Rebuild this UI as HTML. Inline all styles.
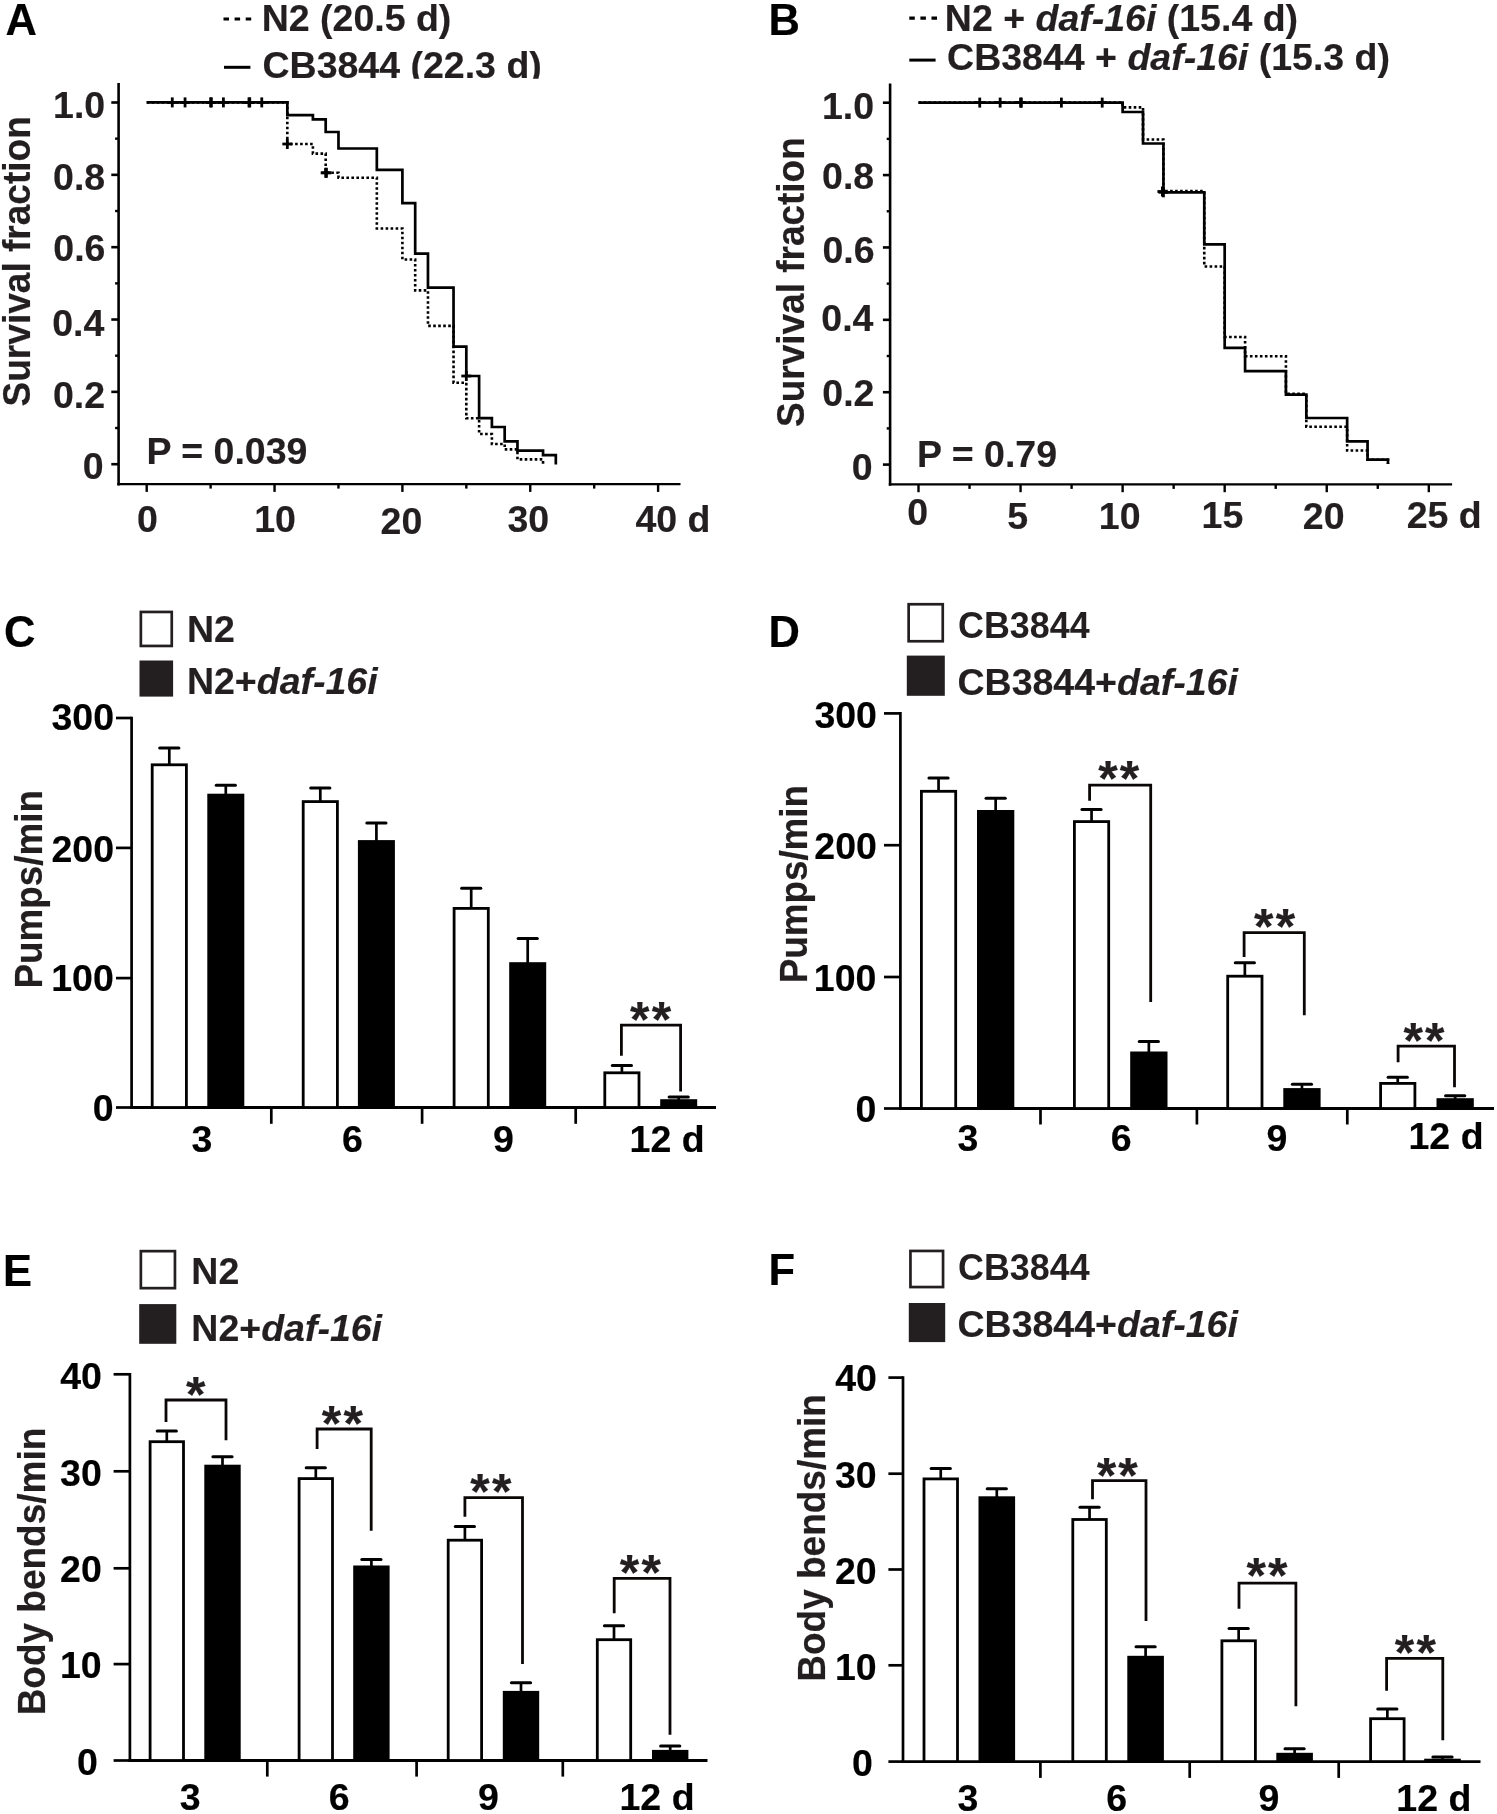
<!DOCTYPE html>
<html><head><meta charset="utf-8"><title>Figure</title>
<style>
html,body{margin:0;padding:0;background:#fff;overflow:hidden;}
svg{display:block;will-change:transform;}
text{font-family:"Liberation Sans", sans-serif;}
</style></head>
<body>
<svg width="1497" height="1814" viewBox="0 0 1497 1814">
<rect width="1497" height="1814" fill="#fff"/>
<defs><clipPath id="clipA"><rect x="0" y="0" width="740" height="78.8"/></clipPath></defs>
<line x1="118.60" y1="83.00" x2="118.60" y2="485.40" stroke="#000" stroke-width="2.6" />
<line x1="117.30" y1="484.10" x2="680.50" y2="484.10" stroke="#000" stroke-width="2.4" />
<line x1="111.30" y1="102.50" x2="118.60" y2="102.50" stroke="#000" stroke-width="2.6" />
<line x1="115.10" y1="138.67" x2="118.60" y2="138.67" stroke="#000" stroke-width="2.4" />
<line x1="111.30" y1="174.84" x2="118.60" y2="174.84" stroke="#000" stroke-width="2.6" />
<line x1="115.10" y1="211.01" x2="118.60" y2="211.01" stroke="#000" stroke-width="2.4" />
<line x1="111.30" y1="247.18" x2="118.60" y2="247.18" stroke="#000" stroke-width="2.6" />
<line x1="115.10" y1="283.35" x2="118.60" y2="283.35" stroke="#000" stroke-width="2.4" />
<line x1="111.30" y1="319.52" x2="118.60" y2="319.52" stroke="#000" stroke-width="2.6" />
<line x1="115.10" y1="355.69" x2="118.60" y2="355.69" stroke="#000" stroke-width="2.4" />
<line x1="111.30" y1="391.86" x2="118.60" y2="391.86" stroke="#000" stroke-width="2.6" />
<line x1="115.10" y1="428.03" x2="118.60" y2="428.03" stroke="#000" stroke-width="2.4" />
<line x1="111.30" y1="464.20" x2="118.60" y2="464.20" stroke="#000" stroke-width="2.6" />
<line x1="146.70" y1="484.10" x2="146.70" y2="491.90" stroke="#000" stroke-width="2.4" />
<line x1="210.62" y1="484.10" x2="210.62" y2="488.60" stroke="#000" stroke-width="2.4" />
<line x1="274.55" y1="484.10" x2="274.55" y2="491.90" stroke="#000" stroke-width="2.4" />
<line x1="338.47" y1="484.10" x2="338.47" y2="488.60" stroke="#000" stroke-width="2.4" />
<line x1="402.40" y1="484.10" x2="402.40" y2="491.90" stroke="#000" stroke-width="2.4" />
<line x1="466.32" y1="484.10" x2="466.32" y2="488.60" stroke="#000" stroke-width="2.4" />
<line x1="530.25" y1="484.10" x2="530.25" y2="491.90" stroke="#000" stroke-width="2.4" />
<line x1="594.17" y1="484.10" x2="594.17" y2="488.60" stroke="#000" stroke-width="2.4" />
<line x1="658.10" y1="484.10" x2="658.10" y2="491.90" stroke="#000" stroke-width="2.4" />
<path d="M146.70,102.40 H287.33 V115.10 H312.90 V119.40 H325.69 V132.00 H338.48 V148.50 H376.83 V169.80 H402.40 V203.10 H415.19 V253.60 H427.97 V287.60 H453.54 V346.70 H466.32 V376.00 H479.11 V418.20 H491.89 V427.00 H504.68 V441.30 H517.46 V450.60 H543.03 V455.20 H555.82 V464.50" fill="none" stroke="#000" stroke-width="2.7" />
<path d="M146.70,102.40 H287.33 V144.00 H312.90 V153.60 H325.69 V172.80 H338.48 V177.70 H376.83 V228.50 H402.40 V259.50 H415.19 V290.40 H427.97 V325.90 H453.54 V382.70 H466.32 V418.20 H479.11 V434.00 H491.89 V444.00 H504.68 V449.40 H517.46 V459.40 H543.03 V465.00" fill="none" stroke="#000" stroke-width="2.6" stroke-dasharray="2.6 2.4"/>
<line x1="167.27" y1="102.40" x2="177.27" y2="102.40" stroke="#000" stroke-width="2.8" />
<line x1="172.27" y1="97.40" x2="172.27" y2="107.40" stroke="#000" stroke-width="2.8" />
<line x1="180.06" y1="102.40" x2="190.06" y2="102.40" stroke="#000" stroke-width="2.8" />
<line x1="185.06" y1="97.40" x2="185.06" y2="107.40" stroke="#000" stroke-width="2.8" />
<line x1="205.62" y1="102.40" x2="215.62" y2="102.40" stroke="#000" stroke-width="2.8" />
<line x1="210.62" y1="97.40" x2="210.62" y2="107.40" stroke="#000" stroke-width="2.8" />
<line x1="206.39" y1="102.40" x2="216.39" y2="102.40" stroke="#000" stroke-width="2.8" />
<line x1="211.39" y1="97.40" x2="211.39" y2="107.40" stroke="#000" stroke-width="2.8" />
<line x1="218.41" y1="102.40" x2="228.41" y2="102.40" stroke="#000" stroke-width="2.8" />
<line x1="223.41" y1="97.40" x2="223.41" y2="107.40" stroke="#000" stroke-width="2.8" />
<line x1="243.98" y1="102.40" x2="253.98" y2="102.40" stroke="#000" stroke-width="2.8" />
<line x1="248.98" y1="97.40" x2="248.98" y2="107.40" stroke="#000" stroke-width="2.8" />
<line x1="244.75" y1="102.40" x2="254.75" y2="102.40" stroke="#000" stroke-width="2.8" />
<line x1="249.75" y1="97.40" x2="249.75" y2="107.40" stroke="#000" stroke-width="2.8" />
<line x1="256.76" y1="102.40" x2="266.76" y2="102.40" stroke="#000" stroke-width="2.8" />
<line x1="261.76" y1="97.40" x2="261.76" y2="107.40" stroke="#000" stroke-width="2.8" />
<line x1="282.33" y1="144.00" x2="292.33" y2="144.00" stroke="#000" stroke-width="2.8" />
<line x1="287.33" y1="139.00" x2="287.33" y2="149.00" stroke="#000" stroke-width="2.8" />
<line x1="320.69" y1="172.80" x2="330.69" y2="172.80" stroke="#000" stroke-width="2.8" />
<line x1="325.69" y1="167.80" x2="325.69" y2="177.80" stroke="#000" stroke-width="2.8" />
<line x1="321.46" y1="172.80" x2="331.46" y2="172.80" stroke="#000" stroke-width="2.8" />
<line x1="326.46" y1="167.80" x2="326.46" y2="177.80" stroke="#000" stroke-width="2.8" />
<line x1="461.32" y1="376.00" x2="471.32" y2="376.00" stroke="#000" stroke-width="2.8" />
<line x1="466.32" y1="371.00" x2="466.32" y2="381.00" stroke="#000" stroke-width="2.8" />
<line x1="890.10" y1="83.40" x2="890.10" y2="485.70" stroke="#000" stroke-width="2.6" />
<line x1="888.80" y1="484.40" x2="1452.10" y2="484.40" stroke="#000" stroke-width="2.4" />
<line x1="882.90" y1="102.70" x2="890.10" y2="102.70" stroke="#000" stroke-width="2.6" />
<line x1="886.70" y1="138.89" x2="890.10" y2="138.89" stroke="#000" stroke-width="2.4" />
<line x1="882.90" y1="175.08" x2="890.10" y2="175.08" stroke="#000" stroke-width="2.6" />
<line x1="886.70" y1="211.27" x2="890.10" y2="211.27" stroke="#000" stroke-width="2.4" />
<line x1="882.90" y1="247.46" x2="890.10" y2="247.46" stroke="#000" stroke-width="2.6" />
<line x1="886.70" y1="283.65" x2="890.10" y2="283.65" stroke="#000" stroke-width="2.4" />
<line x1="882.90" y1="319.84" x2="890.10" y2="319.84" stroke="#000" stroke-width="2.6" />
<line x1="886.70" y1="356.03" x2="890.10" y2="356.03" stroke="#000" stroke-width="2.4" />
<line x1="882.90" y1="392.22" x2="890.10" y2="392.22" stroke="#000" stroke-width="2.6" />
<line x1="886.70" y1="428.41" x2="890.10" y2="428.41" stroke="#000" stroke-width="2.4" />
<line x1="882.90" y1="464.60" x2="890.10" y2="464.60" stroke="#000" stroke-width="2.6" />
<line x1="918.50" y1="484.40" x2="918.50" y2="492.20" stroke="#000" stroke-width="2.4" />
<line x1="969.53" y1="484.40" x2="969.53" y2="488.90" stroke="#000" stroke-width="2.4" />
<line x1="1020.56" y1="484.40" x2="1020.56" y2="492.20" stroke="#000" stroke-width="2.4" />
<line x1="1071.59" y1="484.40" x2="1071.59" y2="488.90" stroke="#000" stroke-width="2.4" />
<line x1="1122.62" y1="484.40" x2="1122.62" y2="492.20" stroke="#000" stroke-width="2.4" />
<line x1="1173.65" y1="484.40" x2="1173.65" y2="488.90" stroke="#000" stroke-width="2.4" />
<line x1="1224.68" y1="484.40" x2="1224.68" y2="492.20" stroke="#000" stroke-width="2.4" />
<line x1="1275.71" y1="484.40" x2="1275.71" y2="488.90" stroke="#000" stroke-width="2.4" />
<line x1="1326.74" y1="484.40" x2="1326.74" y2="492.20" stroke="#000" stroke-width="2.4" />
<line x1="1377.77" y1="484.40" x2="1377.77" y2="488.90" stroke="#000" stroke-width="2.4" />
<line x1="1428.80" y1="484.40" x2="1428.80" y2="492.20" stroke="#000" stroke-width="2.4" />
<path d="M918.50,102.60 H1122.62 V112.00 H1143.03 V143.50 H1163.44 V192.30 H1204.27 V244.30 H1224.68 V347.80 H1245.09 V371.20 H1285.92 V394.60 H1306.33 V418.00 H1347.15 V441.40 H1367.56 V459.70 H1387.98 V464.00" fill="none" stroke="#000" stroke-width="2.7" />
<path d="M918.50,102.60 H1122.62 V107.40 H1143.03 V139.50 H1163.44 V191.00 H1204.27 V266.50 H1224.68 V337.00 H1245.09 V356.20 H1285.92 V393.80 H1306.33 V426.80 H1347.15 V450.50 H1367.56 V459.70 H1387.98 V464.00" fill="none" stroke="#000" stroke-width="2.6" stroke-dasharray="2.6 2.4"/>
<line x1="974.74" y1="102.60" x2="984.74" y2="102.60" stroke="#000" stroke-width="2.8" />
<line x1="979.74" y1="97.60" x2="979.74" y2="107.60" stroke="#000" stroke-width="2.8" />
<line x1="995.15" y1="102.60" x2="1005.15" y2="102.60" stroke="#000" stroke-width="2.8" />
<line x1="1000.15" y1="97.60" x2="1000.15" y2="107.60" stroke="#000" stroke-width="2.8" />
<line x1="1015.56" y1="102.60" x2="1025.56" y2="102.60" stroke="#000" stroke-width="2.8" />
<line x1="1020.56" y1="97.60" x2="1020.56" y2="107.60" stroke="#000" stroke-width="2.8" />
<line x1="1016.38" y1="102.60" x2="1026.38" y2="102.60" stroke="#000" stroke-width="2.8" />
<line x1="1021.38" y1="97.60" x2="1021.38" y2="107.60" stroke="#000" stroke-width="2.8" />
<line x1="1056.38" y1="102.60" x2="1066.38" y2="102.60" stroke="#000" stroke-width="2.8" />
<line x1="1061.38" y1="97.60" x2="1061.38" y2="107.60" stroke="#000" stroke-width="2.8" />
<line x1="1097.21" y1="102.60" x2="1107.21" y2="102.60" stroke="#000" stroke-width="2.8" />
<line x1="1102.21" y1="97.60" x2="1102.21" y2="107.60" stroke="#000" stroke-width="2.8" />
<line x1="1158.44" y1="192.30" x2="1168.44" y2="192.30" stroke="#000" stroke-width="2.8" />
<line x1="1163.44" y1="187.30" x2="1163.44" y2="197.30" stroke="#000" stroke-width="2.8" />
<line x1="1157.42" y1="191.50" x2="1167.42" y2="191.50" stroke="#000" stroke-width="2.8" />
<line x1="1162.42" y1="186.50" x2="1162.42" y2="196.50" stroke="#000" stroke-width="2.8" />
<line x1="223.5" y1="19" x2="251.2" y2="19" stroke="#000" stroke-width="3.2" stroke-dasharray="5.5 5.6"/>
<line x1="224.00" y1="67.30" x2="250.40" y2="67.30" stroke="#000" stroke-width="3" />
<line x1="909.3" y1="18.1" x2="937.2" y2="18.1" stroke="#000" stroke-width="3.2" stroke-dasharray="5.5 5.6"/>
<line x1="909.30" y1="60.10" x2="935.60" y2="60.10" stroke="#000" stroke-width="3" />
<line x1="131.60" y1="716.70" x2="131.60" y2="1108.80" stroke="#000" stroke-width="2.7" />
<line x1="130.30" y1="1107.50" x2="716.00" y2="1107.50" stroke="#000" stroke-width="2.8" />
<line x1="116.00" y1="718.00" x2="131.60" y2="718.00" stroke="#000" stroke-width="2.7" />
<line x1="116.00" y1="847.90" x2="131.60" y2="847.90" stroke="#000" stroke-width="2.7" />
<line x1="116.00" y1="978.10" x2="131.60" y2="978.10" stroke="#000" stroke-width="2.7" />
<line x1="116.00" y1="1107.50" x2="131.60" y2="1107.50" stroke="#000" stroke-width="2.7" />
<line x1="271.30" y1="1107.50" x2="271.30" y2="1123.80" stroke="#000" stroke-width="2.7" />
<line x1="422.10" y1="1107.50" x2="422.10" y2="1123.80" stroke="#000" stroke-width="2.7" />
<line x1="575.70" y1="1107.50" x2="575.70" y2="1123.80" stroke="#000" stroke-width="2.7" />
<line x1="169.30" y1="764.40" x2="169.30" y2="748.00" stroke="#000" stroke-width="2.7" />
<line x1="159.70" y1="748.00" x2="178.90" y2="748.00" stroke="#000" stroke-width="3.0" stroke-linecap="round"/>
<rect x="152.20" y="764.80" width="34.20" height="342.70" fill="#fff" stroke="#000" stroke-width="2.8"/>
<line x1="225.80" y1="794.70" x2="225.80" y2="785.30" stroke="#000" stroke-width="2.7" />
<line x1="216.20" y1="785.30" x2="235.40" y2="785.30" stroke="#000" stroke-width="3.0" stroke-linecap="round"/>
<rect x="207.30" y="793.70" width="37.00" height="313.80" fill="#000"/>
<line x1="320.30" y1="801.20" x2="320.30" y2="787.90" stroke="#000" stroke-width="2.7" />
<line x1="310.70" y1="787.90" x2="329.90" y2="787.90" stroke="#000" stroke-width="3.0" stroke-linecap="round"/>
<rect x="303.20" y="801.60" width="34.20" height="305.90" fill="#fff" stroke="#000" stroke-width="2.8"/>
<line x1="376.40" y1="841.10" x2="376.40" y2="822.90" stroke="#000" stroke-width="2.7" />
<line x1="366.80" y1="822.90" x2="386.00" y2="822.90" stroke="#000" stroke-width="3.0" stroke-linecap="round"/>
<rect x="357.90" y="840.10" width="37.00" height="267.40" fill="#000"/>
<line x1="471.20" y1="908.00" x2="471.20" y2="888.30" stroke="#000" stroke-width="2.7" />
<line x1="461.60" y1="888.30" x2="480.80" y2="888.30" stroke="#000" stroke-width="3.0" stroke-linecap="round"/>
<rect x="454.10" y="908.40" width="34.20" height="199.10" fill="#fff" stroke="#000" stroke-width="2.8"/>
<line x1="527.70" y1="963.20" x2="527.70" y2="938.50" stroke="#000" stroke-width="2.7" />
<line x1="518.10" y1="938.50" x2="537.30" y2="938.50" stroke="#000" stroke-width="3.0" stroke-linecap="round"/>
<rect x="509.20" y="962.20" width="37.00" height="145.30" fill="#000"/>
<line x1="621.90" y1="1072.40" x2="621.90" y2="1065.60" stroke="#000" stroke-width="2.7" />
<line x1="612.30" y1="1065.60" x2="631.50" y2="1065.60" stroke="#000" stroke-width="3.0" stroke-linecap="round"/>
<rect x="604.80" y="1072.80" width="34.20" height="34.70" fill="#fff" stroke="#000" stroke-width="2.8"/>
<line x1="678.70" y1="1100.20" x2="678.70" y2="1097.00" stroke="#000" stroke-width="2.7" />
<line x1="669.10" y1="1097.00" x2="688.30" y2="1097.00" stroke="#000" stroke-width="3.0" stroke-linecap="round"/>
<rect x="660.20" y="1099.20" width="37.00" height="8.30" fill="#000"/>
<path d="M621.40,1055.80 V1025.20 H680.60 V1091.40" fill="none" stroke="#0a0606" stroke-width="2.8" />
<rect x="140.85" y="611.95" width="30.90" height="34.00" fill="#fff" stroke="#231f20" stroke-width="2.7"/>
<rect x="139.50" y="660.50" width="33.60" height="36.10" fill="#231f20"/>
<line x1="900.40" y1="712.10" x2="900.40" y2="1109.80" stroke="#000" stroke-width="2.7" />
<line x1="899.10" y1="1108.50" x2="1494.00" y2="1108.50" stroke="#000" stroke-width="2.8" />
<line x1="884.00" y1="713.40" x2="900.40" y2="713.40" stroke="#000" stroke-width="2.7" />
<line x1="884.00" y1="845.20" x2="900.40" y2="845.20" stroke="#000" stroke-width="2.7" />
<line x1="884.00" y1="977.00" x2="900.40" y2="977.00" stroke="#000" stroke-width="2.7" />
<line x1="884.00" y1="1108.50" x2="900.40" y2="1108.50" stroke="#000" stroke-width="2.7" />
<line x1="1040.50" y1="1108.50" x2="1040.50" y2="1124.50" stroke="#000" stroke-width="2.7" />
<line x1="1196.90" y1="1108.50" x2="1196.90" y2="1124.50" stroke="#000" stroke-width="2.7" />
<line x1="1347.30" y1="1108.50" x2="1347.30" y2="1124.50" stroke="#000" stroke-width="2.7" />
<line x1="938.55" y1="790.90" x2="938.55" y2="778.10" stroke="#000" stroke-width="2.7" />
<line x1="928.95" y1="778.10" x2="948.15" y2="778.10" stroke="#000" stroke-width="3.0" stroke-linecap="round"/>
<rect x="921.40" y="791.30" width="34.30" height="317.20" fill="#fff" stroke="#000" stroke-width="2.8"/>
<line x1="995.65" y1="811.00" x2="995.65" y2="798.30" stroke="#000" stroke-width="2.7" />
<line x1="986.05" y1="798.30" x2="1005.25" y2="798.30" stroke="#000" stroke-width="3.0" stroke-linecap="round"/>
<rect x="977.00" y="810.00" width="37.30" height="298.50" fill="#000"/>
<line x1="1091.55" y1="821.20" x2="1091.55" y2="809.60" stroke="#000" stroke-width="2.7" />
<line x1="1081.95" y1="809.60" x2="1101.15" y2="809.60" stroke="#000" stroke-width="3.0" stroke-linecap="round"/>
<rect x="1074.40" y="821.60" width="34.30" height="286.90" fill="#fff" stroke="#000" stroke-width="2.8"/>
<line x1="1148.85" y1="1052.50" x2="1148.85" y2="1041.60" stroke="#000" stroke-width="2.7" />
<line x1="1139.25" y1="1041.60" x2="1158.45" y2="1041.60" stroke="#000" stroke-width="3.0" stroke-linecap="round"/>
<rect x="1130.20" y="1051.50" width="37.30" height="57.00" fill="#000"/>
<line x1="1244.85" y1="975.80" x2="1244.85" y2="962.70" stroke="#000" stroke-width="2.7" />
<line x1="1235.25" y1="962.70" x2="1254.45" y2="962.70" stroke="#000" stroke-width="3.0" stroke-linecap="round"/>
<rect x="1227.70" y="976.20" width="34.30" height="132.30" fill="#fff" stroke="#000" stroke-width="2.8"/>
<line x1="1301.95" y1="1089.10" x2="1301.95" y2="1084.30" stroke="#000" stroke-width="2.7" />
<line x1="1292.35" y1="1084.30" x2="1311.55" y2="1084.30" stroke="#000" stroke-width="3.0" stroke-linecap="round"/>
<rect x="1283.30" y="1088.10" width="37.30" height="20.40" fill="#000"/>
<line x1="1397.75" y1="1083.00" x2="1397.75" y2="1077.20" stroke="#000" stroke-width="2.7" />
<line x1="1388.15" y1="1077.20" x2="1407.35" y2="1077.20" stroke="#000" stroke-width="3.0" stroke-linecap="round"/>
<rect x="1380.60" y="1083.40" width="34.30" height="25.10" fill="#fff" stroke="#000" stroke-width="2.8"/>
<line x1="1455.15" y1="1099.20" x2="1455.15" y2="1095.70" stroke="#000" stroke-width="2.7" />
<line x1="1445.55" y1="1095.70" x2="1464.75" y2="1095.70" stroke="#000" stroke-width="3.0" stroke-linecap="round"/>
<rect x="1436.50" y="1098.20" width="37.30" height="10.30" fill="#000"/>
<path d="M1089.60,800.80 V785.10 H1150.70 V1002.00" fill="none" stroke="#0a0606" stroke-width="2.8" />
<path d="M1244.10,957.10 V932.70 H1304.30 V1015.20" fill="none" stroke="#0a0606" stroke-width="2.8" />
<path d="M1398.10,1062.30 V1046.10 H1454.50 V1087.30" fill="none" stroke="#0a0606" stroke-width="2.8" />
<rect x="908.65" y="604.25" width="34.10" height="37.00" fill="#fff" stroke="#231f20" stroke-width="2.7"/>
<rect x="906.80" y="655.60" width="38.00" height="40.20" fill="#231f20"/>
<line x1="129.90" y1="1373.00" x2="129.90" y2="1761.80" stroke="#000" stroke-width="2.7" />
<line x1="128.60" y1="1760.50" x2="707.50" y2="1760.50" stroke="#000" stroke-width="2.8" />
<line x1="113.60" y1="1374.30" x2="129.90" y2="1374.30" stroke="#000" stroke-width="2.7" />
<line x1="113.60" y1="1471.30" x2="129.90" y2="1471.30" stroke="#000" stroke-width="2.7" />
<line x1="113.60" y1="1568.30" x2="129.90" y2="1568.30" stroke="#000" stroke-width="2.7" />
<line x1="113.60" y1="1664.10" x2="129.90" y2="1664.10" stroke="#000" stroke-width="2.7" />
<line x1="113.60" y1="1760.50" x2="129.90" y2="1760.50" stroke="#000" stroke-width="2.7" />
<line x1="267.30" y1="1760.50" x2="267.30" y2="1776.60" stroke="#000" stroke-width="2.7" />
<line x1="416.60" y1="1760.50" x2="416.60" y2="1776.60" stroke="#000" stroke-width="2.7" />
<line x1="562.80" y1="1760.50" x2="562.80" y2="1776.60" stroke="#000" stroke-width="2.7" />
<line x1="166.80" y1="1441.30" x2="166.80" y2="1431.10" stroke="#000" stroke-width="2.7" />
<line x1="157.20" y1="1431.10" x2="176.40" y2="1431.10" stroke="#000" stroke-width="3.0" stroke-linecap="round"/>
<rect x="150.10" y="1441.70" width="33.40" height="318.80" fill="#fff" stroke="#000" stroke-width="2.8"/>
<line x1="222.50" y1="1465.70" x2="222.50" y2="1456.80" stroke="#000" stroke-width="2.7" />
<line x1="212.90" y1="1456.80" x2="232.10" y2="1456.80" stroke="#000" stroke-width="3.0" stroke-linecap="round"/>
<rect x="204.30" y="1464.70" width="36.40" height="295.80" fill="#000"/>
<line x1="315.80" y1="1478.20" x2="315.80" y2="1467.80" stroke="#000" stroke-width="2.7" />
<line x1="306.20" y1="1467.80" x2="325.40" y2="1467.80" stroke="#000" stroke-width="3.0" stroke-linecap="round"/>
<rect x="299.10" y="1478.60" width="33.40" height="281.90" fill="#fff" stroke="#000" stroke-width="2.8"/>
<line x1="371.40" y1="1566.50" x2="371.40" y2="1559.40" stroke="#000" stroke-width="2.7" />
<line x1="361.80" y1="1559.40" x2="381.00" y2="1559.40" stroke="#000" stroke-width="3.0" stroke-linecap="round"/>
<rect x="353.20" y="1565.50" width="36.40" height="195.00" fill="#000"/>
<line x1="464.90" y1="1539.80" x2="464.90" y2="1526.60" stroke="#000" stroke-width="2.7" />
<line x1="455.30" y1="1526.60" x2="474.50" y2="1526.60" stroke="#000" stroke-width="3.0" stroke-linecap="round"/>
<rect x="448.20" y="1540.20" width="33.40" height="220.30" fill="#fff" stroke="#000" stroke-width="2.8"/>
<line x1="521.00" y1="1691.90" x2="521.00" y2="1682.80" stroke="#000" stroke-width="2.7" />
<line x1="511.40" y1="1682.80" x2="530.60" y2="1682.80" stroke="#000" stroke-width="3.0" stroke-linecap="round"/>
<rect x="502.80" y="1690.90" width="36.40" height="69.60" fill="#000"/>
<line x1="614.00" y1="1639.30" x2="614.00" y2="1625.80" stroke="#000" stroke-width="2.7" />
<line x1="604.40" y1="1625.80" x2="623.60" y2="1625.80" stroke="#000" stroke-width="3.0" stroke-linecap="round"/>
<rect x="597.30" y="1639.70" width="33.40" height="120.80" fill="#fff" stroke="#000" stroke-width="2.8"/>
<line x1="670.20" y1="1750.90" x2="670.20" y2="1746.10" stroke="#000" stroke-width="2.7" />
<line x1="660.60" y1="1746.10" x2="679.80" y2="1746.10" stroke="#000" stroke-width="3.0" stroke-linecap="round"/>
<rect x="652.00" y="1749.90" width="36.40" height="10.60" fill="#000"/>
<path d="M166.00,1422.10 V1400.00 H226.00 V1440.30" fill="none" stroke="#0a0606" stroke-width="2.8" />
<path d="M317.10,1449.00 V1429.00 H371.20 V1530.70" fill="none" stroke="#0a0606" stroke-width="2.8" />
<path d="M464.90,1516.70 V1497.60 H522.50 V1664.00" fill="none" stroke="#0a0606" stroke-width="2.8" />
<path d="M614.20,1613.30 V1578.30 H670.00 V1734.70" fill="none" stroke="#0a0606" stroke-width="2.8" />
<rect x="140.85" y="1251.15" width="34.10" height="37.00" fill="#fff" stroke="#231f20" stroke-width="2.7"/>
<rect x="139.20" y="1304.10" width="37.10" height="39.70" fill="#231f20"/>
<line x1="903.00" y1="1376.30" x2="903.00" y2="1762.90" stroke="#000" stroke-width="2.7" />
<line x1="901.70" y1="1761.60" x2="1480.50" y2="1761.60" stroke="#000" stroke-width="2.8" />
<line x1="888.40" y1="1377.60" x2="903.00" y2="1377.60" stroke="#000" stroke-width="2.7" />
<line x1="888.40" y1="1473.70" x2="903.00" y2="1473.70" stroke="#000" stroke-width="2.7" />
<line x1="888.40" y1="1569.50" x2="903.00" y2="1569.50" stroke="#000" stroke-width="2.7" />
<line x1="888.40" y1="1665.30" x2="903.00" y2="1665.30" stroke="#000" stroke-width="2.7" />
<line x1="888.40" y1="1761.60" x2="903.00" y2="1761.60" stroke="#000" stroke-width="2.7" />
<line x1="1040.40" y1="1761.60" x2="1040.40" y2="1777.90" stroke="#000" stroke-width="2.7" />
<line x1="1189.70" y1="1761.60" x2="1189.70" y2="1777.90" stroke="#000" stroke-width="2.7" />
<line x1="1338.70" y1="1761.60" x2="1338.70" y2="1777.90" stroke="#000" stroke-width="2.7" />
<line x1="940.75" y1="1478.50" x2="940.75" y2="1468.50" stroke="#000" stroke-width="2.7" />
<line x1="931.15" y1="1468.50" x2="950.35" y2="1468.50" stroke="#000" stroke-width="3.0" stroke-linecap="round"/>
<rect x="924.00" y="1478.90" width="33.50" height="282.70" fill="#fff" stroke="#000" stroke-width="2.8"/>
<line x1="996.80" y1="1497.30" x2="996.80" y2="1488.70" stroke="#000" stroke-width="2.7" />
<line x1="987.20" y1="1488.70" x2="1006.40" y2="1488.70" stroke="#000" stroke-width="3.0" stroke-linecap="round"/>
<rect x="978.50" y="1496.30" width="36.60" height="265.30" fill="#000"/>
<line x1="1089.55" y1="1519.10" x2="1089.55" y2="1507.30" stroke="#000" stroke-width="2.7" />
<line x1="1079.95" y1="1507.30" x2="1099.15" y2="1507.30" stroke="#000" stroke-width="3.0" stroke-linecap="round"/>
<rect x="1072.80" y="1519.50" width="33.50" height="242.10" fill="#fff" stroke="#000" stroke-width="2.8"/>
<line x1="1145.60" y1="1656.80" x2="1145.60" y2="1646.70" stroke="#000" stroke-width="2.7" />
<line x1="1136.00" y1="1646.70" x2="1155.20" y2="1646.70" stroke="#000" stroke-width="3.0" stroke-linecap="round"/>
<rect x="1127.30" y="1655.80" width="36.60" height="105.80" fill="#000"/>
<line x1="1238.65" y1="1640.40" x2="1238.65" y2="1628.50" stroke="#000" stroke-width="2.7" />
<line x1="1229.05" y1="1628.50" x2="1248.25" y2="1628.50" stroke="#000" stroke-width="3.0" stroke-linecap="round"/>
<rect x="1221.90" y="1640.80" width="33.50" height="120.80" fill="#fff" stroke="#000" stroke-width="2.8"/>
<line x1="1294.60" y1="1753.80" x2="1294.60" y2="1748.80" stroke="#000" stroke-width="2.7" />
<line x1="1285.00" y1="1748.80" x2="1304.20" y2="1748.80" stroke="#000" stroke-width="3.0" stroke-linecap="round"/>
<rect x="1276.30" y="1752.80" width="36.60" height="8.80" fill="#000"/>
<line x1="1387.35" y1="1718.30" x2="1387.35" y2="1708.90" stroke="#000" stroke-width="2.7" />
<line x1="1377.75" y1="1708.90" x2="1396.95" y2="1708.90" stroke="#000" stroke-width="3.0" stroke-linecap="round"/>
<rect x="1370.60" y="1718.70" width="33.50" height="42.90" fill="#fff" stroke="#000" stroke-width="2.8"/>
<line x1="1442.50" y1="1759.70" x2="1442.50" y2="1757.00" stroke="#000" stroke-width="2.7" />
<line x1="1432.90" y1="1757.00" x2="1452.10" y2="1757.00" stroke="#000" stroke-width="3.0" stroke-linecap="round"/>
<rect x="1424.20" y="1758.70" width="36.60" height="2.90" fill="#000"/>
<path d="M1092.50,1499.20 V1480.60 H1146.00 V1621.00" fill="none" stroke="#0a0606" stroke-width="2.8" />
<path d="M1239.00,1608.80 V1583.20 H1295.90 V1706.20" fill="none" stroke="#0a0606" stroke-width="2.8" />
<path d="M1386.60,1690.70 V1658.30 H1442.80 V1740.30" fill="none" stroke="#0a0606" stroke-width="2.8" />
<rect x="910.45" y="1250.95" width="32.60" height="36.10" fill="#fff" stroke="#231f20" stroke-width="2.7"/>
<rect x="908.80" y="1303.00" width="36.40" height="39.10" fill="#231f20"/>
<text x="5.60" y="35.20" font-size="43.5" font-weight="bold" fill="#000" stroke="#000" stroke-width="0.18" text-anchor="start" >A</text>
<text x="768.60" y="35.20" font-size="43.5" font-weight="bold" fill="#000" stroke="#000" stroke-width="0.18" text-anchor="start" >B</text>
<text x="4.00" y="646.60" font-size="43.5" font-weight="bold" fill="#000" stroke="#000" stroke-width="0.18" text-anchor="start" >C</text>
<text x="768.60" y="647.00" font-size="43.5" font-weight="bold" fill="#000" stroke="#000" stroke-width="0.18" text-anchor="start" >D</text>
<text x="2.90" y="1285.70" font-size="43.5" font-weight="bold" fill="#000" stroke="#000" stroke-width="0.18" text-anchor="start" >E</text>
<text x="768.50" y="1284.60" font-size="43.5" font-weight="bold" fill="#000" stroke="#000" stroke-width="0.18" text-anchor="start" >F</text>
<text x="261.70" y="31.30" font-size="37.5" font-weight="bold" fill="#231f20" stroke="#231f20" stroke-width="0.18" text-anchor="start" >N2 (20.5 d)</text>
<text x="262.50" y="77.80" font-size="37.5" font-weight="bold" fill="#231f20" stroke="#231f20" stroke-width="0.18" text-anchor="start" clip-path="url(#clipA)">CB3844 (22.3 d)</text>
<text x="944.80" y="30.80" font-size="37.5" font-weight="bold" fill="#231f20" stroke="#231f20" stroke-width="0.18" text-anchor="start" >N2 + <tspan font-style="italic">daf-16i</tspan> (15.4 d)</text>
<text x="947.10" y="69.60" font-size="37.5" font-weight="bold" fill="#231f20" stroke="#231f20" stroke-width="0.18" text-anchor="start" >CB3844 + <tspan font-style="italic">daf-16i</tspan> (15.3 d)</text>
<text x="186.90" y="642.00" font-size="37.5" font-weight="bold" fill="#231f20" stroke="#231f20" stroke-width="0.18" text-anchor="start" >N2</text>
<text x="186.90" y="694.10" font-size="37.5" font-weight="bold" fill="#231f20" stroke="#231f20" stroke-width="0.18" text-anchor="start" >N2+<tspan font-style="italic">daf-16i</tspan></text>
<text x="0" y="0" font-size="37.5" font-weight="bold" fill="#231f20" transform="translate(958.04,637.80) scale(0.957,1)">CB3844</text>
<text x="957.50" y="695.00" font-size="37.5" font-weight="bold" fill="#231f20" stroke="#231f20" stroke-width="0.18" text-anchor="start" >CB3844+<tspan font-style="italic">daf-16i</tspan></text>
<text x="191.30" y="1284.00" font-size="37.5" font-weight="bold" fill="#231f20" stroke="#231f20" stroke-width="0.18" text-anchor="start" >N2</text>
<text x="191.30" y="1341.40" font-size="37.5" font-weight="bold" fill="#231f20" stroke="#231f20" stroke-width="0.18" text-anchor="start" >N2+<tspan font-style="italic">daf-16i</tspan></text>
<text x="0" y="0" font-size="37.5" font-weight="bold" fill="#231f20" transform="translate(958.04,1279.80) scale(0.957,1)">CB3844</text>
<text x="957.50" y="1336.50" font-size="37.5" font-weight="bold" fill="#231f20" stroke="#231f20" stroke-width="0.18" text-anchor="start" >CB3844+<tspan font-style="italic">daf-16i</tspan></text>
<text x="53.10" y="117.65" font-size="37.5" font-weight="bold" fill="#231f20" stroke="#231f20" stroke-width="0.18" text-anchor="start" >1.0</text>
<text x="53.10" y="190.20" font-size="37.5" font-weight="bold" fill="#231f20" stroke="#231f20" stroke-width="0.18" text-anchor="start" >0.8</text>
<text x="53.30" y="261.20" font-size="37.5" font-weight="bold" fill="#231f20" stroke="#231f20" stroke-width="0.18" text-anchor="start" >0.6</text>
<text x="52.20" y="336.20" font-size="37.5" font-weight="bold" fill="#231f20" stroke="#231f20" stroke-width="0.18" text-anchor="start" >0.4</text>
<text x="52.90" y="407.50" font-size="37.5" font-weight="bold" fill="#231f20" stroke="#231f20" stroke-width="0.18" text-anchor="start" >0.2</text>
<text x="82.70" y="478.50" font-size="37.5" font-weight="bold" fill="#231f20" stroke="#231f20" stroke-width="0.18" text-anchor="start" >0</text>
<text x="821.90" y="118.95" font-size="37.5" font-weight="bold" fill="#231f20" stroke="#231f20" stroke-width="0.18" text-anchor="start" >1.0</text>
<text x="822.10" y="188.50" font-size="37.5" font-weight="bold" fill="#231f20" stroke="#231f20" stroke-width="0.18" text-anchor="start" >0.8</text>
<text x="822.40" y="262.75" font-size="37.5" font-weight="bold" fill="#231f20" stroke="#231f20" stroke-width="0.18" text-anchor="start" >0.6</text>
<text x="821.30" y="331.35" font-size="37.5" font-weight="bold" fill="#231f20" stroke="#231f20" stroke-width="0.18" text-anchor="start" >0.4</text>
<text x="822.30" y="406.10" font-size="37.5" font-weight="bold" fill="#231f20" stroke="#231f20" stroke-width="0.18" text-anchor="start" >0.2</text>
<text x="851.70" y="480.05" font-size="37.5" font-weight="bold" fill="#231f20" stroke="#231f20" stroke-width="0.18" text-anchor="start" >0</text>
<text x="51.50" y="730.30" font-size="37.5" font-weight="bold" fill="#000" stroke="#000" stroke-width="0.18" text-anchor="start" >300</text>
<text x="51.50" y="861.55" font-size="37.5" font-weight="bold" fill="#000" stroke="#000" stroke-width="0.18" text-anchor="start" >200</text>
<text x="51.20" y="991.30" font-size="37.5" font-weight="bold" fill="#000" stroke="#000" stroke-width="0.18" text-anchor="start" >100</text>
<text x="92.70" y="1121.45" font-size="37.5" font-weight="bold" fill="#000" stroke="#000" stroke-width="0.18" text-anchor="start" >0</text>
<text x="814.40" y="727.55" font-size="37.5" font-weight="bold" fill="#000" stroke="#000" stroke-width="0.18" text-anchor="start" >300</text>
<text x="814.30" y="858.65" font-size="37.5" font-weight="bold" fill="#000" stroke="#000" stroke-width="0.18" text-anchor="start" >200</text>
<text x="813.80" y="990.75" font-size="37.5" font-weight="bold" fill="#000" stroke="#000" stroke-width="0.18" text-anchor="start" >100</text>
<text x="855.40" y="1122.40" font-size="37.5" font-weight="bold" fill="#000" stroke="#000" stroke-width="0.18" text-anchor="start" >0</text>
<text x="60.20" y="1389.40" font-size="37.5" font-weight="bold" fill="#000" stroke="#000" stroke-width="0.18" text-anchor="start" >40</text>
<text x="60.10" y="1485.80" font-size="37.5" font-weight="bold" fill="#000" stroke="#000" stroke-width="0.18" text-anchor="start" >30</text>
<text x="60.10" y="1582.20" font-size="37.5" font-weight="bold" fill="#000" stroke="#000" stroke-width="0.18" text-anchor="start" >20</text>
<text x="60.00" y="1678.25" font-size="37.5" font-weight="bold" fill="#000" stroke="#000" stroke-width="0.18" text-anchor="start" >10</text>
<text x="76.90" y="1774.80" font-size="37.5" font-weight="bold" fill="#000" stroke="#000" stroke-width="0.18" text-anchor="start" >0</text>
<text x="835.20" y="1391.30" font-size="37.5" font-weight="bold" fill="#000" stroke="#000" stroke-width="0.18" text-anchor="start" >40</text>
<text x="835.00" y="1487.70" font-size="37.5" font-weight="bold" fill="#000" stroke="#000" stroke-width="0.18" text-anchor="start" >30</text>
<text x="835.00" y="1583.50" font-size="37.5" font-weight="bold" fill="#000" stroke="#000" stroke-width="0.18" text-anchor="start" >20</text>
<text x="835.00" y="1679.60" font-size="37.5" font-weight="bold" fill="#000" stroke="#000" stroke-width="0.18" text-anchor="start" >10</text>
<text x="851.90" y="1776.00" font-size="37.5" font-weight="bold" fill="#000" stroke="#000" stroke-width="0.18" text-anchor="start" >0</text>
<text x="137.00" y="532.05" font-size="37.5" font-weight="bold" fill="#231f20" stroke="#231f20" stroke-width="0.18" text-anchor="start" >0</text>
<text x="254.20" y="532.05" font-size="37.5" font-weight="bold" fill="#231f20" stroke="#231f20" stroke-width="0.18" text-anchor="start" >10</text>
<text x="380.60" y="533.65" font-size="37.5" font-weight="bold" fill="#231f20" stroke="#231f20" stroke-width="0.18" text-anchor="start" >20</text>
<text x="507.50" y="531.55" font-size="37.5" font-weight="bold" fill="#231f20" stroke="#231f20" stroke-width="0.18" text-anchor="start" >30</text>
<text x="635.40" y="531.55" font-size="37.5" font-weight="bold" fill="#231f20" stroke="#231f20" stroke-width="0.18" text-anchor="start" >40 d</text>
<text x="907.30" y="525.15" font-size="37.5" font-weight="bold" fill="#231f20" stroke="#231f20" stroke-width="0.18" text-anchor="start" >0</text>
<text x="1007.20" y="529.15" font-size="37.5" font-weight="bold" fill="#231f20" stroke="#231f20" stroke-width="0.18" text-anchor="start" >5</text>
<text x="1098.80" y="528.65" font-size="37.5" font-weight="bold" fill="#231f20" stroke="#231f20" stroke-width="0.18" text-anchor="start" >10</text>
<text x="1201.60" y="528.00" font-size="37.5" font-weight="bold" fill="#231f20" stroke="#231f20" stroke-width="0.18" text-anchor="start" >15</text>
<text x="1302.80" y="528.75" font-size="37.5" font-weight="bold" fill="#231f20" stroke="#231f20" stroke-width="0.18" text-anchor="start" >20</text>
<text x="1406.70" y="528.00" font-size="37.5" font-weight="bold" fill="#231f20" stroke="#231f20" stroke-width="0.18" text-anchor="start" >25 d</text>
<text x="191.45" y="1151.90" font-size="37.5" font-weight="bold" fill="#000" stroke="#000" stroke-width="0.18" text-anchor="start" >3</text>
<text x="342.05" y="1151.90" font-size="37.5" font-weight="bold" fill="#000" stroke="#000" stroke-width="0.18" text-anchor="start" >6</text>
<text x="493.00" y="1151.90" font-size="37.5" font-weight="bold" fill="#000" stroke="#000" stroke-width="0.18" text-anchor="start" >9</text>
<text x="629.60" y="1151.90" font-size="37.5" font-weight="bold" fill="#000" stroke="#000" stroke-width="0.18" text-anchor="start" >12 d</text>
<text x="957.45" y="1150.60" font-size="37.5" font-weight="bold" fill="#000" stroke="#000" stroke-width="0.18" text-anchor="start" >3</text>
<text x="1110.65" y="1150.60" font-size="37.5" font-weight="bold" fill="#000" stroke="#000" stroke-width="0.18" text-anchor="start" >6</text>
<text x="1266.50" y="1150.60" font-size="37.5" font-weight="bold" fill="#000" stroke="#000" stroke-width="0.18" text-anchor="start" >9</text>
<text x="1408.50" y="1148.60" font-size="37.5" font-weight="bold" fill="#000" stroke="#000" stroke-width="0.18" text-anchor="start" >12 d</text>
<text x="179.75" y="1810.10" font-size="37.5" font-weight="bold" fill="#000" stroke="#000" stroke-width="0.18" text-anchor="start" >3</text>
<text x="328.65" y="1810.10" font-size="37.5" font-weight="bold" fill="#000" stroke="#000" stroke-width="0.18" text-anchor="start" >6</text>
<text x="478.00" y="1810.10" font-size="37.5" font-weight="bold" fill="#000" stroke="#000" stroke-width="0.18" text-anchor="start" >9</text>
<text x="619.50" y="1809.90" font-size="37.5" font-weight="bold" fill="#000" stroke="#000" stroke-width="0.18" text-anchor="start" >12 d</text>
<text x="957.60" y="1810.70" font-size="37.5" font-weight="bold" fill="#000" stroke="#000" stroke-width="0.18" text-anchor="start" >3</text>
<text x="1106.30" y="1810.70" font-size="37.5" font-weight="bold" fill="#000" stroke="#000" stroke-width="0.18" text-anchor="start" >6</text>
<text x="1258.50" y="1810.70" font-size="37.5" font-weight="bold" fill="#000" stroke="#000" stroke-width="0.18" text-anchor="start" >9</text>
<text x="1396.30" y="1810.70" font-size="37.5" font-weight="bold" fill="#000" stroke="#000" stroke-width="0.18" text-anchor="start" >12 d</text>
<text x="146.50" y="463.90" font-size="37.5" font-weight="bold" fill="#231f20" stroke="#231f20" stroke-width="0.18" text-anchor="start" >P = 0.039</text>
<text x="917.00" y="467.25" font-size="37.5" font-weight="bold" fill="#231f20" stroke="#231f20" stroke-width="0.18" text-anchor="start" >P = 0.79</text>
<text x="0" y="0" font-size="37.5" font-weight="bold" fill="#231f20" stroke="#231f20" stroke-width="0.18" text-anchor="middle" transform="translate(29.60,261.31) rotate(-90) scale(0.9883,1.03)">Survival fraction</text>
<text x="0" y="0" font-size="37.5" font-weight="bold" fill="#231f20" stroke="#231f20" stroke-width="0.18" text-anchor="middle" transform="translate(803.70,282.06) rotate(-90) scale(0.9859,1.03)">Survival fraction</text>
<text x="0" y="0" font-size="37.5" font-weight="bold" fill="#231f20" stroke="#231f20" stroke-width="0.18" text-anchor="middle" transform="translate(41.60,889.35) rotate(-90) scale(0.9823,1.02)">Pumps/min</text>
<text x="0" y="0" font-size="37.5" font-weight="bold" fill="#231f20" stroke="#231f20" stroke-width="0.18" text-anchor="middle" transform="translate(806.60,884.15) rotate(-90) scale(0.9823,1.02)">Pumps/min</text>
<text x="0" y="0" font-size="37.5" font-weight="bold" fill="#231f20" stroke="#231f20" stroke-width="0.18" text-anchor="middle" transform="translate(45.00,1571.54) rotate(-90) scale(0.9864,1.02)">Body bends/min</text>
<text x="0" y="0" font-size="37.5" font-weight="bold" fill="#231f20" stroke="#231f20" stroke-width="0.18" text-anchor="middle" transform="translate(825.00,1537.89) rotate(-90) scale(0.9861,1.02)">Body bends/min</text>
<text x="630.10" y="1036.90" font-size="50" font-weight="bold" fill="#231f20" stroke="#231f20" stroke-width="0.18" text-anchor="start" letter-spacing='2.2' >**</text>
<text x="1098.20" y="795.90" font-size="50" font-weight="bold" fill="#231f20" stroke="#231f20" stroke-width="0.18" text-anchor="start" letter-spacing='2.2' >**</text>
<text x="1254.10" y="944.40" font-size="50" font-weight="bold" fill="#231f20" stroke="#231f20" stroke-width="0.18" text-anchor="start" letter-spacing='2.2' >**</text>
<text x="1403.40" y="1057.90" font-size="50" font-weight="bold" fill="#231f20" stroke="#231f20" stroke-width="0.18" text-anchor="start" letter-spacing='2.2' >**</text>
<text x="186.10" y="1411.90" font-size="50" font-weight="bold" fill="#231f20" stroke="#231f20" stroke-width="0.18" text-anchor="start" letter-spacing='2.2' >*</text>
<text x="321.80" y="1440.60" font-size="50" font-weight="bold" fill="#231f20" stroke="#231f20" stroke-width="0.18" text-anchor="start" letter-spacing='2.2' >**</text>
<text x="470.30" y="1509.00" font-size="50" font-weight="bold" fill="#231f20" stroke="#231f20" stroke-width="0.18" text-anchor="start" letter-spacing='2.2' >**</text>
<text x="619.80" y="1590.20" font-size="50" font-weight="bold" fill="#231f20" stroke="#231f20" stroke-width="0.18" text-anchor="start" letter-spacing='2.2' >**</text>
<text x="1096.70" y="1492.50" font-size="50" font-weight="bold" fill="#231f20" stroke="#231f20" stroke-width="0.18" text-anchor="start" letter-spacing='2.2' >**</text>
<text x="1246.40" y="1592.50" font-size="50" font-weight="bold" fill="#231f20" stroke="#231f20" stroke-width="0.18" text-anchor="start" letter-spacing='2.2' >**</text>
<text x="1394.80" y="1670.20" font-size="50" font-weight="bold" fill="#231f20" stroke="#231f20" stroke-width="0.18" text-anchor="start" letter-spacing='2.2' >**</text>
</svg>
</body></html>
